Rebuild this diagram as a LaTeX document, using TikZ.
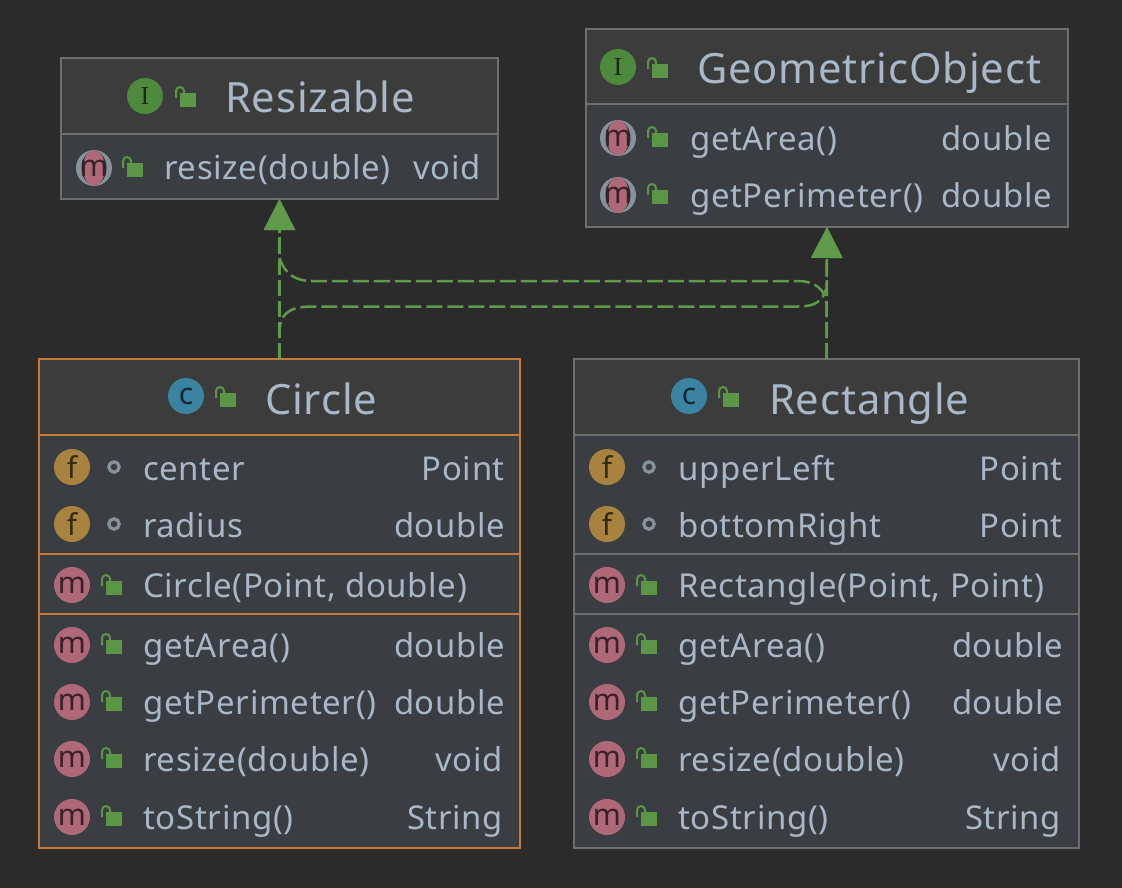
\documentclass[tikz,border=0pt]{standalone}
\usepackage{fontspec}
\setmainfont[LetterSpace=2]{Noto Sans}
\newfontfamily\iconserif{Liberation Serif}
\usetikzlibrary{arrows.meta}
\definecolor{bgc}{HTML}{2B2B2B}
\definecolor{headc}{HTML}{3C3C3C}
\definecolor{bodyc}{HTML}{3A3D41}
\definecolor{edgec}{HTML}{6E6E6E}
\definecolor{selc}{HTML}{C67A33}
\definecolor{txtc}{HTML}{A9B7C6}
\definecolor{grn}{HTML}{5A9645}
\definecolor{linkc}{HTML}{5F9B4B}
\definecolor{pinkc}{HTML}{AE6878}
\definecolor{goldc}{HTML}{A8833F}
\definecolor{bluec}{HTML}{3A84A2}
\definecolor{igrn}{HTML}{4E8A3D}
\definecolor{dotc}{HTML}{87939A}
\tikzset{
  x=1pt,y=-1pt,
  classbox/.style={draw=#1,line width=2pt,minimum width=\bw pt,minimum height=\bh pt,inner sep=0pt,outer sep=0pt},
  rowtext/.style={text=txtc,font=\fontsize{33}{33}\selectfont,anchor=base west,inner sep=0pt,yshift=-1pt},
  typetext/.style={text=txtc,font=\fontsize{32.8}{33}\selectfont,anchor=base east,inner sep=0pt,yshift=-1pt},
  titletext/.style={text=txtc,font=\fontsize{41.7}{42}\selectfont,anchor=base west,inner sep=0pt,yshift=-2pt},
  iconc/.style={circle,fill=#1,minimum size=36pt,inner sep=0pt},
  iconl/.style={text=black!68!#1,font=\fontsize{30}{30}\selectfont,inner sep=0pt},
  iconi/.style={text=black!68!#1,font=\iconserif\fontsize{26}{26}\selectfont,inner sep=0pt},
  rel/.style={draw=linkc,line width=2.5pt,dash pattern=on 16pt off 5pt,-{Triangle[length=31pt,width=31pt,fill=linkc]}},
}
\newcommand\ClassBox[6]{%
  \pgfmathsetmacro\bw{#4-#2}\pgfmathsetmacro\bh{#5-#3}
  \pgfmathsetmacro\mx{(#2+#4)/2}\pgfmathsetmacro\my{(#3+#5)/2}
  \node[classbox=#6] (#1) at (\mx,\my) {};}
\newcommand\Sep[4]{\draw[#4,line width=2pt] (#1,#3) -- (#2,#3);}
\newcommand\Lock[2]{%
  \fill[grn] (#1,#2-7) rectangle ++(16,14);
  \draw[grn,line width=2pt] (#1-4,#2-2) -- (#1-4,#2-9) arc[start angle=180,end angle=360,radius=4] -- (#1+4,#2-7);}
\newcommand\Ic[5]{%
  \node[iconc=#4] (#1) at (#2,#3) {};
  \node[iconl=#4] (#1l) at (#2,#3) {#5};}
\newcommand\IcI[3]{%
  \node[iconc=igrn] (#1) at (#2,#3) {};
  \node[iconi=igrn] (#1l) at (#2,#3) {I};}
\newcommand\IfaceM[3]{%
  \node[iconc=dotc] (#1) at (#2,#3) {};
  \fill[bodyc!70!black] (#2,#3) ellipse[x radius=12.5,y radius=17];
  \fill[pinkc] (#2,#3) ellipse[x radius=11,y radius=18];
  \node[iconl=pinkc] (#1l) at (#2,#3) {m};}
\newcommand\Dot[2]{\draw[dotc,line width=3.2pt] (#1,#2) circle[radius=5.2];}
\begin{document}
\begin{tikzpicture}
\useasboundingbox (0,0) rectangle (1122,888);
\fill[bgc] (0,0) rectangle (1122,888);
% fills
\fill[headc] (61,58) rectangle (498,134);
\fill[bodyc] (61,134) rectangle (498,199);
\fill[headc] (586,29) rectangle (1068,104);
\fill[bodyc] (586,104) rectangle (1068,227);
\fill[headc] (39,359) rectangle (520,435);
\fill[bodyc] (39,435) rectangle (520,848);
\fill[headc] (574,359) rectangle (1079,435);
\fill[bodyc] (574,435) rectangle (1079,848);
% boxes
\ClassBox{resizable}{61}{58}{498}{199}{edgec}
\ClassBox{geom}{586}{29}{1068}{227}{edgec}
\ClassBox{circ}{39}{359}{520}{848}{selc}
\ClassBox{rect}{574}{359}{1079}{848}{edgec}
\Sep{61}{498}{134}{edgec}
\Sep{586}{1068}{104}{edgec}
\Sep{39}{520}{435}{selc}\Sep{39}{520}{554}{selc}\Sep{39}{520}{614}{selc}
\Sep{574}{1079}{435}{edgec}\Sep{574}{1079}{554}{edgec}\Sep{574}{1079}{614}{edgec}
% connectors
\draw[rel] (circ.north) -- (resizable.south);
\draw[rel] (rect.north) -- (geom.south);
\draw[rel] (circ.north) -- (279.5,332) .. controls (279.5,315) and (288,306.5) .. (312,306.5) -- (798,306.5) .. controls (815,306.5) and (822,302) .. (826.5,288) -- (geom.south);
\draw[rel] (rect.north) -- (826.5,304) .. controls (826,290) and (815,281) .. (798,281) -- (312,281) .. controls (295,281) and (285,274) .. (279.5,258) -- (resizable.south);
% Resizable
\IcI{ri}{145}{96}\Lock{180}{100}
\node[titletext] (rt) at (225,111) {Resizable};
\IfaceM{rm}{94}{168}\Lock{127}{170}
\node[rowtext] (r1) at (164,178) {resize(double)};
\node[typetext] (r1t) at (481,178) {void};
% GeometricObject
\IcI{gi}{618}{67}\Lock{652}{71}
\node[titletext] (gt) at (697,82) {GeometricObject};
\IfaceM{gm1}{618}{138}\Lock{652}{140}
\node[rowtext] (g1) at (690,149) {getArea()};
\node[typetext] (g1t) at (1052,149) {double};
\IfaceM{gm2}{618}{195}\Lock{652}{197}
\node[rowtext] (g2) at (690,206) {getPerimeter()};
\node[typetext] (g2t) at (1052,206) {double};
% Circle
\Ic{ci}{186}{396}{bluec}{c}\Lock{220}{400}
\node[titletext] (ct) at (265,412) {Circle};
\Ic{cf1}{72}{467}{goldc}{f}\Dot{114}{467}
\node[rowtext] (c1) at (143,479) {center};
\node[typetext] (c1t) at (505,479) {Point};
\Ic{cf2}{72}{524}{goldc}{f}\Dot{114}{524}
\node[rowtext] (c2) at (143,536) {radius};
\node[typetext] (c2t) at (505,536) {double};
\Ic{cm0}{72}{585}{pinkc}{m}\Lock{106}{588}
\node[rowtext] (c3) at (143,596) {Circle(Point, double)};
\Ic{cm1}{72}{645}{pinkc}{m}\Lock{106}{647}
\node[rowtext] (c4) at (143,656) {getArea()};
\node[typetext] (c4t) at (505,656) {double};
\Ic{cm2}{72}{702}{pinkc}{m}\Lock{106}{704}
\node[rowtext] (c5) at (143,713) {getPerimeter()};
\node[typetext] (c5t) at (505,713) {double};
\Ic{cm3}{72}{759}{pinkc}{m}\Lock{106}{761}
\node[rowtext] (c6) at (143,770) {resize(double)};
\node[typetext] (c6t) at (503,770) {void};
\Ic{cm4}{72}{817}{pinkc}{m}\Lock{106}{819}
\node[rowtext] (c7) at (143,828) {toString()};
\node[typetext] (c7t) at (503,828) {String};
% Rectangle
\Ic{ki}{689}{396}{bluec}{c}\Lock{723}{400}
\node[titletext] (kt) at (769,412) {Rectangle};
\Ic{kf1}{607}{467}{goldc}{f}\Dot{649}{467}
\node[rowtext] (k1) at (678,479) {upperLeft};
\node[typetext] (k1t) at (1063,479) {Point};
\Ic{kf2}{607}{524}{goldc}{f}\Dot{649}{524}
\node[rowtext] (k2) at (678,536) {bottomRight};
\node[typetext] (k2t) at (1063,536) {Point};
\Ic{km0}{607}{585}{pinkc}{m}\Lock{641}{588}
\node[rowtext] (k3) at (678,596) {Rectangle(Point, Point)};
\Ic{km1}{607}{645}{pinkc}{m}\Lock{641}{647}
\node[rowtext] (k4) at (678,656) {getArea()};
\node[typetext] (k4t) at (1063,656) {double};
\Ic{km2}{607}{702}{pinkc}{m}\Lock{641}{704}
\node[rowtext] (k5) at (678,713) {getPerimeter()};
\node[typetext] (k5t) at (1063,713) {double};
\Ic{km3}{607}{759}{pinkc}{m}\Lock{641}{761}
\node[rowtext] (k6) at (678,770) {resize(double)};
\node[typetext] (k6t) at (1061,770) {void};
\Ic{km4}{607}{817}{pinkc}{m}\Lock{641}{819}
\node[rowtext] (k7) at (678,828) {toString()};
\node[typetext] (k7t) at (1061,828) {String};
\end{tikzpicture}
\end{document}
